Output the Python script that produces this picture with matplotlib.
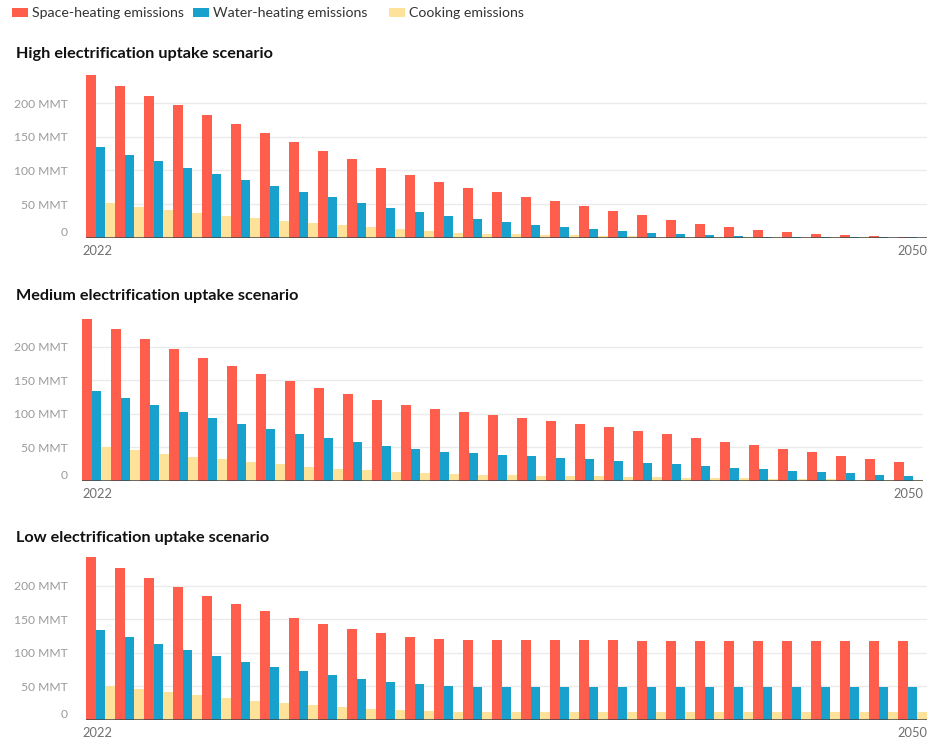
import matplotlib
matplotlib.use("Agg")
import matplotlib.pyplot as plt
from matplotlib.patches import Rectangle
import numpy as np

plt.rcParams['font.family'] = ['Lato', 'DejaVu Sans']

years = list(range(2022, 2051))

# High electrification uptake scenario (MMT)
high_space = [242, 226, 211, 197.5, 183, 169, 156, 142.5, 129, 117, 104, 93, 83, 74,
              68, 60.5, 54.6, 47, 40, 34, 26, 20, 16, 11.4, 8.4, 5.5, 4, 2.5, 1]
high_water = [135, 123, 114, 104, 95, 86, 77, 68, 60.5, 51.6, 44, 38, 32, 28,
              23, 19, 16, 13, 10, 7, 5.5, 4, 2.5, 1.5, 1, 1, 0.8, 0.6, 0.5]
high_cook = [51.6, 45.7, 41, 36.7, 32, 29, 25, 22, 19, 16, 13, 10, 7, 5.5,
             5.5, 4, 4, 2.5, 2.5, 1.5, 1.2, 1, 0.8, 0.6, 0.5, 0.4, 0.3, 0.2, 0.1]

# Medium electrification uptake scenario (MMT)
med_space = [241, 226, 211, 196.5, 183, 171, 159, 149, 138.5, 129.5, 120.6, 113, 107, 103,
             98, 94, 89, 85, 80, 74.4, 70, 64, 58, 53.6, 47.6, 43, 37, 33, 28]
med_water = [134, 123.6, 113, 103, 94, 85, 77.4, 70, 64, 58, 52, 47.6, 43, 41.7,
             38.7, 37, 34, 33, 30, 27, 25, 22, 19, 18, 15, 13.4, 12, 9, 7.4]
med_cook = [50.6, 46, 40, 35.7, 32.8, 28.3, 25.3, 20.8, 17.9, 16.4, 13.4, 12, 10.4, 9,
            9, 7.4, 7.4, 7.4, 6, 6, 4.5, 4.5, 4.5, 3, 3, 3, 1.5, 1.5, 1.5]

# Low electrification uptake scenario (MMT)
low_space = [242, 225.7, 210.9, 197.5, 184.2, 172.3, 161.9, 151.5, 142.6, 135.1, 129.2, 123.3, 120.3,
             118.8, 118.8, 118.8, 118.8, 118.8, 118.8,
             117.3, 117.3, 117.3, 117.3, 117.3, 117.3, 117.3, 117.3, 117.3, 117.3]
low_water = [133.7, 123.3, 112.9, 104, 95, 86, 78.7, 72.8, 66.8, 60.9, 56.4, 53.5, 50.5,
             49, 49, 49, 49, 49, 49, 49, 49, 49, 49, 49, 49, 49, 49, 49, 49]
low_cook = [50.5, 46, 41.6, 37, 32.7, 28.2, 25.2, 22.3, 19.3, 16.3, 14.9, 13.4, 11.9,
            11.9, 11.9, 11.9, 11.9, 11.9, 11.9, 11.9, 11.9, 11.9, 11.9, 11.9, 11.9, 11.9, 11.9, 11.9, 11.9]

series_names = ['Space-heating emissions', 'Water-heating emissions', 'Cooking emissions']
colors = ['#ff5e4d', '#18a1cc', '#ffe299']
titles = ['High electrification uptake scenario',
          'Medium electrification uptake scenario',
          'Low electrification uptake scenario']
tick_vals = [0, 50, 100, 150, 200]
tick_labels = ['0', '50 MMT', '100 MMT', '150 MMT', '200 MMT']

W, H = 931, 745
fig = plt.figure(figsize=(W / 100, H / 100), dpi=100)

panels = [
    (86, 237.7, 54, [high_space, high_water, high_cook]),
    (82, 481, 296, [med_space, med_water, med_cook]),
    (86, 720, 538, [low_space, low_water, low_cook]),
]

x = np.arange(len(years))
w = 1 / 3
for (left, base, ty, data), title in zip(panels, titles):
    ax = fig.add_axes([left / W, (H - base) / H, 841 / W, 168 / H])
    for k, (vals, c) in enumerate(zip(data, colors)):
        ax.bar(x + (k - 1) * w, vals, width=w, color=c, linewidth=0, zorder=2)
    ax.set_xlim(-0.5, len(years) - 0.5)
    ax.set_ylim(0, 250)
    for s in ax.spines.values():
        s.set_visible(False)
    ax.set_yticks(tick_vals)
    ax.set_yticklabels(tick_labels)
    ax.yaxis.grid(True, color='#ebebeb', linewidth=1, zorder=0)
    ax.set_axisbelow(True)
    ax.axhline(0, color='#444444', linewidth=1.8, zorder=3)
    ax.tick_params(axis='y', length=0, pad=(left - 68) * 0.72, labelsize=8.7, labelcolor='#9a9a9a')
    ax.get_yticklabels()[0].set_verticalalignment('bottom')
    ax.set_xticks([])
    # first / last year labels at the ends of the axis
    fig.text(82 / W, 1 - (base + 13) / H, str(years[0]), fontsize=9.3,
             color='#6f6f6f', ha='left', va='center')
    fig.text((left + 841) / W, 1 - (base + 13) / H, str(years[-1]), fontsize=9.3,
             color='#6f6f6f', ha='right', va='center')
    fig.text(16 / W, 1 - ty / H, title, fontsize=11.7, fontweight='bold',
             color='#111111', va='center', ha='left')

# legend
leg_x = [12, 193, 389]
for lx, name, c in zip(leg_x, series_names, colors):
    fig.add_artist(Rectangle((lx / W, 1 - 17 / H), 16 / W, 9 / H,
                             transform=fig.transFigure, color=c, linewidth=0))
    fig.text((lx + 20) / W, 1 - 13 / H, name, fontsize=10.2, color='#333333',
             va='center', ha='left')

fig.savefig('out.png', dpi=100)
